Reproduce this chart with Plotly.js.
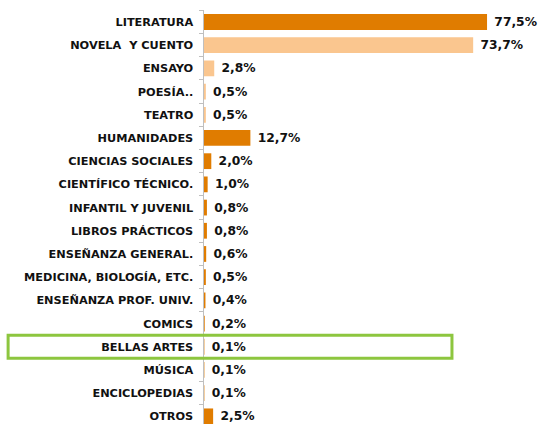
<!DOCTYPE html>
<html><head><meta charset="utf-8">
<script src="https://cdn.plot.ly/plotly-3.0.1.min.js"></script>
<style>html,body{margin:0;padding:0;background:#fff}#c{width:540px;height:424px}</style>
</head><body><div id="c"></div>
<script>
const categories = ["LITERATURA","NOVELA  Y CUENTO","ENSAYO","POESÍA..","TEATRO","HUMANIDADES","CIENCIAS SOCIALES","CIENTÍFICO TÉCNICO.","INFANTIL Y JUVENIL","LIBROS PRÁCTICOS","ENSEÑANZA GENERAL.","MEDICINA, BIOLOGÍA, ETC.","ENSEÑANZA PROF. UNIV.","COMICS","BELLAS ARTES","MÚSICA","ENCICLOPEDIAS","OTROS"];
const values = [77.5,73.7,2.8,0.5,0.5,12.7,2.0,1.0,0.8,0.8,0.6,0.5,0.4,0.2,0.1,0.1,0.1,2.5];
const isSub = [false,true,true,true,true,false,false,false,false,false,false,false,false,false,false,false,false,false];
const highlighted = "BELLAS ARTES";

const dark = "#E07C00", light = "#FAC68F";
const idx = categories.indexOf(highlighted);
const trace = {
  type: "bar", orientation: "h",
  y: categories, x: values,
  marker: {color: isSub.map(s => s ? light : dark)},
  width: 0.68,
  text: values.map(v => "\u00a0" + v.toFixed(1).replace(".", ",") + "%"),
  textposition: "outside", cliponaxis: false,
  textfont: {family: "DejaVu Sans", size: 12.3, color: "#111", weight: "bold"},
  hoverinfo: "none"
};
const layout = {
  width: 540, height: 424,
  margin: {l: 204, r: 0, t: 10, b: 0},
  paper_bgcolor: "#fff", plot_bgcolor: "#fff",
  showlegend: false,
  bargap: 0.3,
  xaxis: {range: [0, 92], visible: false, fixedrange: true},
  yaxis: {
    type: "category", range: [17.33, -0.517],
    showline: true, linecolor: "#BFBFBF", linewidth: 1.5,
    ticks: "outside", tickson: "boundaries", ticklen: 4, tickcolor: "#BFBFBF",
    showgrid: false, zeroline: false,
    ticklabelstandoff: 7,
    tickfont: {family: "DejaVu Sans", size: 11.3, color: "#111", weight: "bold"}
  },
  shapes: [{
    type: "rect", xref: "paper", yref: "y",
    x0: -0.583, x1: 0.738, y0: idx - 0.5, y1: idx + 0.5,
    line: {color: "#8DC63F", width: 3}, fillcolor: "rgba(0,0,0,0)"
  }]
};
Plotly.newPlot("c", [trace], layout, {staticPlot: true});
</script></body></html>
